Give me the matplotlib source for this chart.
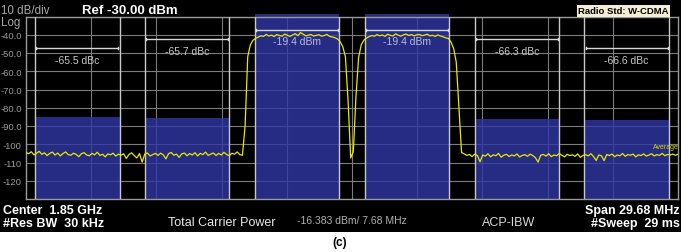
import numpy as np
import matplotlib.pyplot as plt
from matplotlib.patches import Rectangle

plt.rcParams['font.family'] = ['Liberation Sans', 'DejaVu Sans']

span_mhz = 29.68
ref_level = -30.0
bottom_level = -130.0

band_centers = [-12.5, -7.5, -2.5, 2.5, 7.5, 12.5]      # MHz offset
band_width = 3.84                                        # MHz
band_tops = [-85.2, -85.6, -28.6, -28.6, -86.3, -86.8]   # dBm
marker_levels = [-47.3, -42.3, -37.4, -37.4, -42.3, -47.3]
marker_labels = ["-65.5 dBc", "-65.7 dBc", "-19.4 dBm", "-19.4 dBm",
                 "-66.3 dBc", "-66.6 dBc"]
label_levels = [-53.8, -48.9, -43.4, -43.4, -48.9, -53.8]

noise_left = [
    -104.6, -105.2, -104.1, -105.8, -104.9, -103.9, -105.5, -104.7, -106.2, -105.0,
    -104.3, -105.9, -104.8, -106.4, -105.1, -104.2, -105.7, -106.0, -104.9, -105.6,
    -106.8, -105.2, -104.6, -105.9, -106.3, -105.0, -105.8, -104.4, -106.1, -105.5,
    -106.9, -105.3, -105.8, -104.9, -106.5, -105.4, -106.0, -105.2, -107.8, -105.6,
    -104.7, -106.2, -107.5, -105.1, -109.8, -105.3, -104.8, -106.4, -105.7, -105.0,
    -106.1, -104.9, -105.8, -108.0, -105.2, -104.5, -106.0, -105.4, -107.2, -105.3,
    -104.8, -106.3, -105.1, -105.9, -104.6, -106.4, -105.0, -105.7, -104.3, -106.1,
    -105.4, -104.8, -106.2, -105.0, -105.9, -104.4, -105.6, -106.3, -104.9, -105.5,
    -104.2, -105.7, -106.0]
rise_1 = [-90.0, -52.0, -45.5, -43.0, -42.0]
carrier_1 = [
    -41.3, -40.6, -40.9, -39.8, -40.7, -40.2, -41.0, -39.9, -40.4, -40.8,
    -39.6, -40.3, -40.9, -40.1, -39.4, -40.5, -38.8, -39.7, -40.6, -40.2,
    -39.9, -40.7, -40.3, -40.0, -40.8, -40.4, -39.8, -40.9, -41.2, -41.6]
center_dip = [-42.3, -43.8, -46.5, -52.0, -76.0, -107.5,
              -104.0, -74.0, -52.5, -45.5, -43.0, -41.8]
carrier_2 = [
    -41.0, -40.4, -40.8, -39.9, -40.6, -40.1, -40.9, -39.7, -40.3, -40.7,
    -39.5, -40.2, -40.8, -40.0, -39.6, -40.4, -39.9, -40.6, -40.1, -39.8,
    -40.5, -40.2, -39.7, -40.6, -40.3, -40.9, -40.1, -40.7, -41.1, -41.7]
fall_2 = [-42.0, -44.0, -47.5, -55.0, -80.0, -104.5]
noise_right = [
    -105.3, -106.1, -105.6, -106.8, -105.4, -106.2, -109.6, -105.9, -106.5, -105.2,
    -106.9, -105.8, -106.3, -105.0, -107.1, -106.0, -105.5, -106.7, -105.9, -106.4,
    -105.3, -107.0, -106.1, -105.7, -106.6, -105.4, -106.2, -107.4, -109.8, -106.0,
    -105.6, -106.5, -105.2, -106.8, -105.9, -106.3, -105.1, -106.0, -106.9, -105.5,
    -106.2, -105.8, -106.6, -105.3, -107.2, -106.1, -105.7, -106.4, -105.2, -106.7,
    -108.9, -105.9, -106.3, -109.0, -105.6, -106.2, -105.4, -106.8, -105.9, -106.3,
    -105.1, -106.6, -105.7, -106.0, -105.4, -106.9, -105.8, -106.2, -105.3, -106.5,
    -105.9, -105.2, -106.4, -105.7, -106.1, -105.0, -106.3, -105.6, -105.9, -105.4,
    -106.0, -105.5]

trace = np.array(noise_left + rise_1 + carrier_1 + center_dip
                 + carrier_2 + fall_2 + noise_right)
# sweep points are equally spaced across the span
freq = np.linspace(-span_mhz / 2, span_mhz / 2, len(trace))

ytick_vals = [-40, -50, -60, -70, -80, -90, -100, -110, -120]
ytick_labels = ["-40.0", "-50.0", "-60.0", "-70.0", "-80.0", "-90.0",
                "-100", "-110", "-120"]

# --- figure ---
W, H = 681, 253
fig = plt.figure(figsize=(W / 100, H / 100), dpi=100)
fig.patch.set_facecolor('white')

# black instrument screen behind everything
bg = fig.add_axes([0, 20 / H, 1, 1 - 20 / H], zorder=0)
bg.set_facecolor('black')
bg.set_xticks([])
bg.set_yticks([])
for sp in bg.spines.values():
    sp.set_visible(False)

ax = fig.add_axes([26 / W, 1 - 200 / H, 652 / W, 182.5 / H], zorder=1)
ax.set_facecolor('black')
ax.set_xlim(-span_mhz / 2, span_mhz / 2)
ax.set_ylim(bottom_level, ref_level)

grid_c = '#7c7c7c'
for k in range(1, 10):
    ax.axvline(-span_mhz / 2 + k * span_mhz / 10, color=grid_c, lw=0.8, zorder=1)
for lev in ytick_vals:
    ax.axhline(lev, color=grid_c, lw=0.8, zorder=1)

for c, top in zip(band_centers, band_tops):
    x0 = c - band_width / 2
    ax.add_patch(Rectangle((x0, bottom_level), band_width, top - bottom_level,
                           facecolor='#3036a6', alpha=0.8, edgecolor='none',
                           zorder=2, clip_on=False))
    ax.axvline(x0, color='#c8c8c8', lw=1.0, zorder=3)
    ax.axvline(x0 + band_width, color='#c8c8c8', lw=1.0, zorder=3)

for c, lev, lab, ly in zip(band_centers, marker_levels, marker_labels, label_levels):
    x0, x1 = c - band_width / 2 + 0.05, c + band_width / 2 - 0.05
    ax.plot([x0, x1], [lev, lev], color='#d8d8d8', lw=1.0, zorder=5)
    ax.plot([x0, x0], [lev - 0.6, lev + 0.6], color='#d8d8d8', lw=1.0, zorder=5)
    ax.plot([x1, x1], [lev - 0.6, lev + 0.6], color='#d8d8d8', lw=1.0, zorder=5)
    col = '#b8bcdc' if 'dBm' in lab else '#c8c8c8'
    ax.text(c, ly, lab, color=col, fontsize=7.5, ha='center', va='center', zorder=3.5)

ax.plot(freq, trace, color='#e8e800', lw=0.9, zorder=4)
ax.text(13.7, -101.5, "Average", color='#d8d800', fontsize=5, ha='left',
        va='center', zorder=5, clip_on=True)

ax.set_xticks([])
ax.set_yticks(ytick_vals)
ax.set_yticklabels(ytick_labels)
ax.tick_params(axis='y', length=0, pad=3, labelsize=6.8, labelcolor='#9a9a9a')
for sp in ax.spines.values():
    sp.set_color('#9a9a9a')
    sp.set_linewidth(1.0)

def px(x, y):
    return x / W, 1 - y / H

fig.text(*px(1, 11.5), "10 dB/div", color='#a8a8a8', fontsize=8.3, va='center',
         zorder=5)
fig.text(*px(1, 23), "Log", color='#a8a8a8', fontsize=8.3, va='center', zorder=5)
fig.text(*px(82, 11.5), "Ref -30.00 dBm", color='white', fontsize=9.5,
         fontweight='bold', va='center', zorder=5)
fig.text(*px(578, 12), "Radio Std: W-CDMA", color='black', fontsize=6.8,
         fontweight='bold', va='center', zorder=5,
         bbox=dict(boxstyle='square,pad=0.15', facecolor='#f4efd2', edgecolor='none'))

fig.text(*px(3, 211), "Center  1.85 GHz", color='white', fontsize=9,
         fontweight='bold', va='center')
fig.text(*px(3, 224), "#Res BW  30 kHz", color='white', fontsize=9,
         fontweight='bold', va='center')
fig.text(*px(168, 223), "Total Carrier Power", color='#e8e8e8', fontsize=9, va='center')
fig.text(*px(297, 221), "-16.383 dBm/ 7.68 MHz", color='#b0b0b0', fontsize=7.5,
         va='center')
fig.text(*px(482, 223), "ACP-IBW", color='#d8d8d8', fontsize=9, va='center')
fig.text(*px(680, 211), "Span 29.68 MHz", color='white', fontsize=9,
         fontweight='bold', va='center', ha='right')
fig.text(*px(680, 224), "#Sweep  29 ms", color='white', fontsize=9,
         fontweight='bold', va='center', ha='right')

fig.text(*px(340, 243), "(c)", color='black', fontsize=8.5, fontweight='bold',
         ha='center', va='center')

fig.savefig('out.png', dpi=100, facecolor=fig.get_facecolor())
